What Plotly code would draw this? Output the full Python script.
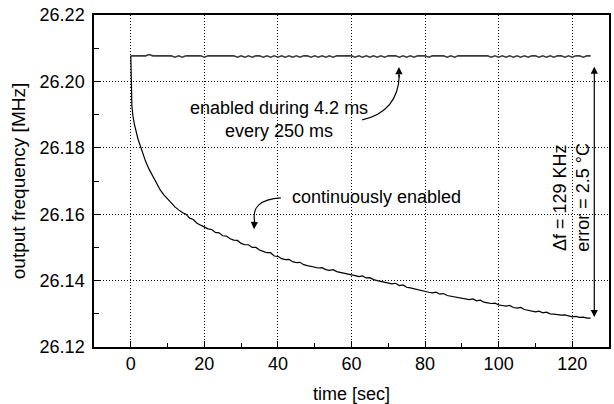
import plotly.graph_objects as go

# ---------------- data ----------------
# "enabled during 4.2 ms every 250 ms" series  (t = 0 .. 125 s)
pulsed_time = list(range(0, 126))
pulsed_freq = [
    26.2077, 26.2077, 26.2077, 26.2077, 26.2077, 26.2081, 26.2077, 26.2077, 26.2077, 26.2077,
    26.2077, 26.2077, 26.2073, 26.2077, 26.2073, 26.2077, 26.2077, 26.2077, 26.2077, 26.2077,
    26.2073, 26.2077, 26.2077, 26.2077, 26.2077, 26.2077, 26.2077, 26.2077, 26.2077, 26.2073,
    26.2077, 26.2073, 26.2077, 26.2073, 26.2077, 26.2077, 26.2073, 26.2077, 26.2073, 26.2077,
    26.2073, 26.2077, 26.2073, 26.2077, 26.2073, 26.2077, 26.2073, 26.2077, 26.2077, 26.2073,
    26.2077, 26.2073, 26.2077, 26.2073, 26.2077, 26.2073, 26.2077, 26.2077, 26.2077, 26.2077,
    26.2077, 26.2073, 26.2077, 26.2073, 26.2077, 26.2073, 26.2077, 26.2073, 26.2077, 26.2073,
    26.2077, 26.2077, 26.2077, 26.2073, 26.2077, 26.2073, 26.2077, 26.2073, 26.2077, 26.2077,
    26.2077, 26.2073, 26.2077, 26.2077, 26.2077, 26.2077, 26.2073, 26.2077, 26.2073, 26.2077,
    26.2077, 26.2077, 26.2077, 26.2077, 26.2077, 26.2077, 26.2077, 26.2077, 26.2073, 26.2077,
    26.2073, 26.2077, 26.2073, 26.2077, 26.2073, 26.2077, 26.2073, 26.2077, 26.2073, 26.2077,
    26.2077, 26.2073, 26.2077, 26.2073, 26.2077, 26.2073, 26.2077, 26.2077, 26.2073, 26.2077,
    26.2073, 26.2077, 26.2077, 26.2073, 26.2077, 26.2077,
]

# "continuously enabled" series
cont_time = [0, 0.1, 0.3, 0.6] + list(range(1, 126))
cont_freq = [
    26.2077, 26.1950, 26.1925, 26.1895,
    26.1870, 26.1825, 26.1790, 26.1760, 26.1735, 26.1713, 26.1692, 26.1673, 26.1658, 26.1645,
    26.1633, 26.1622, 26.1613, 26.1605, 26.1600, 26.1588, 26.1584, 26.1573, 26.1567, 26.1562,
    26.1556, 26.1554, 26.1545, 26.1544, 26.1535, 26.1534, 26.1526, 26.1522, 26.1521, 26.1512,
    26.1508, 26.1508, 26.1500, 26.1500, 26.1492, 26.1488, 26.1484, 26.1484, 26.1474, 26.1473,
    26.1466, 26.1463, 26.1464, 26.1457, 26.1454, 26.1455, 26.1448, 26.1445, 26.1443, 26.1440,
    26.1438, 26.1439, 26.1433, 26.1431, 26.1433, 26.1427, 26.1424, 26.1422, 26.1420, 26.1417,
    26.1415, 26.1412, 26.1414, 26.1408, 26.1409, 26.1403, 26.1400, 26.1398, 26.1396, 26.1393,
    26.1390, 26.1392, 26.1385, 26.1387, 26.1380, 26.1378, 26.1375, 26.1373, 26.1370, 26.1367,
    26.1365, 26.1363, 26.1365, 26.1359, 26.1361, 26.1355, 26.1353, 26.1351, 26.1349, 26.1347,
    26.1345, 26.1343, 26.1345, 26.1339, 26.1341, 26.1335, 26.1333, 26.1331, 26.1332, 26.1327,
    26.1325, 26.1323, 26.1325, 26.1319, 26.1317, 26.1319, 26.1313, 26.1311, 26.1309, 26.1306,
    26.1308, 26.1303, 26.1305, 26.1300, 26.1299, 26.1297, 26.1296, 26.1297, 26.1293, 26.1291,
    26.1292, 26.1289, 26.1290, 26.1287, 26.1287,
]

x_ticks = [0, 20, 40, 60, 80, 100, 120]
y_ticks = [26.12, 26.14, 26.16, 26.18, 26.20, 26.22]

FONT = "Liberation Sans, Arial, sans-serif"
DOT = "1px,2px"

fig = go.Figure()
fig.add_trace(go.Scatter(x=pulsed_time, y=pulsed_freq, mode="lines",
                         line=dict(color="#3a3a3a", width=1.6), showlegend=False))
fig.add_trace(go.Scatter(x=cont_time, y=cont_freq, mode="lines",
                         line=dict(color="black", width=1.2), showlegend=False))

axis_common = dict(
    showline=True, linecolor="black", linewidth=1.5, mirror=True,
    ticks="inside", ticklen=6, tickcolor="black", tickwidth=1,
    showgrid=True, gridcolor="black", gridwidth=1, griddash=DOT,
    zeroline=False, automargin=False,
    tickfont=dict(family=FONT, size=18, color="black"),
)

fig.update_xaxes(range=[-10, 130], tickvals=x_ticks,
                 minor=dict(dtick=10, tick0=0, ticks="inside", ticklen=4, tickcolor="black"),
                 title=dict(text="time [sec]", font=dict(family=FONT, size=18, color="black"), standoff=15),
                 **axis_common)
fig.update_yaxes(range=[26.12, 26.22], tickvals=y_ticks, tickformat=".2f",
                 minor=dict(dtick=0.01, tick0=26.12, ticks="inside", ticklen=5, tickcolor="black"),
                 title=dict(text="output frequency [MHz]", font=dict(family=FONT, size=19, color="black"), standoff=9),
                 ticklabelstandoff=4,
                 **axis_common)

ann_font = dict(family=FONT, size=18, color="black")
annotations = [
    dict(x=40.3, y=26.1884, text="enabled during 4.2 ms<br>every 250 ms", showarrow=False, font=ann_font),
    dict(x=66.7, y=26.1652, text="continuously enabled", showarrow=False, font=ann_font),
    dict(x=116.7, y=26.1649, text="Δf = 129 KHz", textangle=-90, showarrow=False, font=ann_font),
    dict(x=122.9, y=26.1652, text="error = 2.5 °C", textangle=-90, showarrow=False, font=ann_font),
    # arrowheads of curved arrows
    dict(x=72.9, y=26.2043, ax=0, ay=12, text="", showarrow=True, arrowhead=2,
         arrowsize=1.2, arrowwidth=1.2, arrowcolor="black"),
    dict(x=33.5, y=26.1555, ax=0.5, ay=-10, text="", showarrow=True, arrowhead=2,
         arrowsize=1.2, arrowwidth=1.2, arrowcolor="black"),
    # double-headed vertical arrow (delta f)
    dict(x=126.0, y=26.1290, ax=126.0, ay=26.2049, axref="x", ayref="y", text="",
         showarrow=True, arrowhead=2, startarrowhead=2, arrowside="end+start",
         arrowsize=1.2, startarrowsize=1.2, arrowwidth=1.2, arrowcolor="black"),
]

shapes = [
    dict(type="path", xref="x", yref="y", path="M 62.9,26.1884 Q 72.7,26.1908 73.0,26.2019",
         line=dict(color="black", width=1.2)),
    dict(type="path", xref="x", yref="y", path="M 40.8,26.1649 Q 32.4,26.1643 33.7,26.1577",
         line=dict(color="black", width=1.2)),
]

fig.update_layout(
    width=614, height=404,
    margin=dict(l=94, r=5, t=15, b=57, autoexpand=False),
    paper_bgcolor="white", plot_bgcolor="white",
    font=dict(family=FONT, color="black"),
    annotations=annotations, shapes=shapes,
)

fig.write_html("out.html", config={"displayModeBar": False},
               post_script="document.body.style.margin='0';document.body.style.overflow='hidden';")
